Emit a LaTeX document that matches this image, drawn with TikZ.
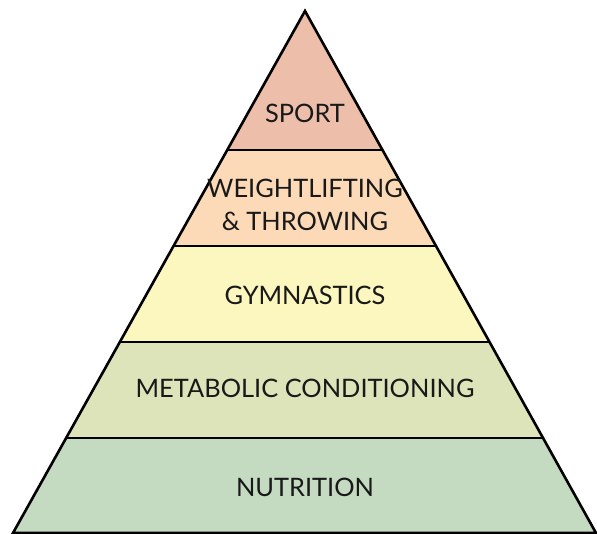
\documentclass[tikz,border=0pt]{standalone}
\usepackage{fontspec}
\setmainfont{Lato}
\usetikzlibrary{calc}
\definecolor{sportcol}{RGB}{237,191,171}
\definecolor{liftcol}{RGB}{252,218,184}
\definecolor{gymcol}{RGB}{252,247,190}
\definecolor{metcol}{RGB}{222,228,186}
\definecolor{nutcol}{RGB}{196,219,193}
\tikzset{
  band/.style={draw=black,line width=1.4bp},
  label/.style={font=\fontsize{25.5}{33}\selectfont,align=center,text=black!90}
}
\begin{document}
\begin{tikzpicture}[x=1bp,y=-1bp]
  \useasboundingbox (0,0) rectangle (597,534);
  \coordinate (apex) at (305,11);
  \coordinate (bl) at (13,533);
  \coordinate (br) at (596,533);
  % band edges on both sides
  \coordinate (l1) at ($(apex)!0.2663!(bl)$);
  \coordinate (r1) at ($(apex)!0.2663!(br)$);
  \coordinate (l2) at ($(apex)!0.4502!(bl)$);
  \coordinate (r2) at ($(apex)!0.4502!(br)$);
  \coordinate (l3) at ($(apex)!0.6341!(bl)$);
  \coordinate (r3) at ($(apex)!0.6341!(br)$);
  \coordinate (l4) at ($(apex)!0.8180!(bl)$);
  \coordinate (r4) at ($(apex)!0.8180!(br)$);
  \fill[sportcol] (apex) -- (r1) -- (l1) -- cycle;
  \fill[liftcol] (l1) -- (r1) -- (r2) -- (l2) -- cycle;
  \fill[gymcol] (l2) -- (r2) -- (r3) -- (l3) -- cycle;
  \fill[metcol] (l3) -- (r3) -- (r4) -- (l4) -- cycle;
  \fill[nutcol] (l4) -- (r4) -- (br) -- (bl) -- cycle;
  \draw[band] (l1) -- (r1) (l2) -- (r2) (l3) -- (r3) (l4) -- (r4);
  \draw[line width=2.6bp,line join=miter] (apex) -- (br) -- (bl) -- cycle;
  % level names
  \node[label] (sport) at (305,113) {SPORT};
  \node[label] (lift) at (305,205) {WEIGHTLIFTING\\\& THROWING};
  \node[label] (gym) at (305,295) {GYMNASTICS};
  \node[label] (met) at (305,388) {METABOLIC CONDITIONING};
  \node[label] (nut) at (305,487) {NUTRITION};
\end{tikzpicture}
\end{document}
